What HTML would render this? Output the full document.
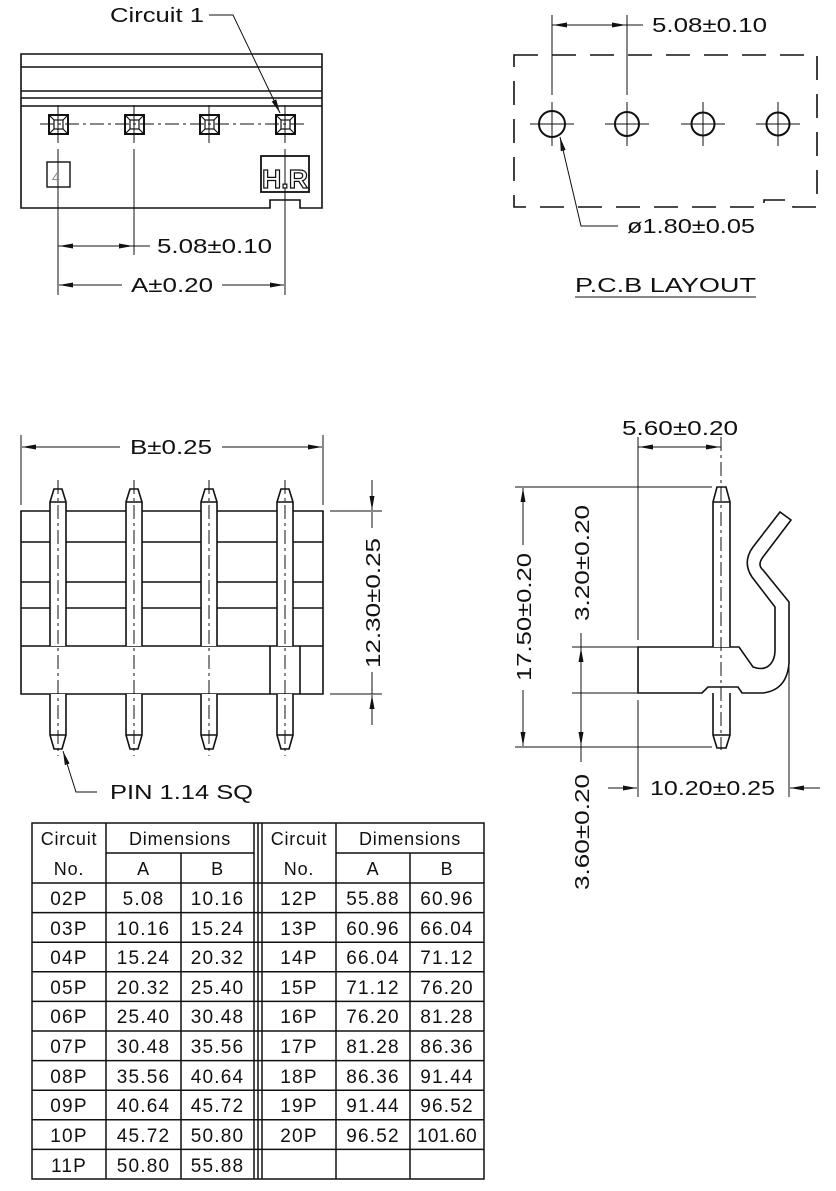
<!DOCTYPE html>
<html><head><meta charset="utf-8"><style>
html,body{margin:0;padding:0;background:#fff}
svg{display:block}
text{font-family:"Liberation Sans",sans-serif;fill:#111}
</style></head><body>
<svg width="836" height="1191" viewBox="0 0 836 1191" xmlns="http://www.w3.org/2000/svg">
<defs>
<marker id="a" viewBox="0 0 14 6" refX="14" refY="3" markerWidth="14" markerHeight="6" markerUnits="userSpaceOnUse" orient="auto"><path d="M0,0.5 L14,3 L0,5.5 z" fill="#111"/></marker>
</defs>
<g stroke="#111" stroke-width="1.6" fill="none">
<path d="M21,54 H322 V208 H300 V200 H270 V208 H21 Z"/>
<path d="M21,67 H322 M21,91 H322 M21,98 H322 M21,106 H322"/>
<path d="M40,124 H305" stroke-width="1" stroke-dasharray="14,4,3,4"/>
<g id="sq">
<rect x="49" y="115" width="19" height="19" stroke-width="2"/>
<rect x="54" y="120" width="9" height="9" stroke-width="1.2"/>
<path d="M49,115 L54,120 M68,115 L63,120 M49,134 L54,129 M68,134 L63,129" stroke-width="1.2"/>
</g>
<use href="#sq" x="76"/><use href="#sq" x="151"/><use href="#sq" x="227"/>
<g stroke-width="1">
<path d="M58,105 V143 M134,105 V143 M209,105 V143 M285,105 V143"/>
<path d="M58,149 V295 M134,149 V255 M285,149 V295"/>
</g>
<rect x="47" y="162" width="23" height="25" stroke-width="1.4"/>
<rect x="261" y="156" width="48" height="36" stroke-width="1.8"/>
<path d="M58,246 H133" stroke-width="1" marker-end="url(#a)"/>
<path d="M134,246 H59" stroke-width="1" marker-end="url(#a)"/>
<path d="M134,246 H150" stroke-width="1"/>
<path d="M122,285 H59" stroke-width="1" marker-end="url(#a)"/>
<path d="M222,285 H284" stroke-width="1" marker-end="url(#a)"/>
<path d="M209,15 H233 L280,113" stroke-width="1" marker-end="url(#a)"/>

<path d="M514,55 H817 V207 H793 V200 H764 V207 H514 Z" stroke-dasharray="24,14"/>
<g stroke-width="2">
<circle cx="552" cy="124" r="13"/><circle cx="627" cy="124" r="12"/><circle cx="703" cy="124" r="11.5"/><circle cx="778" cy="124" r="11.5"/>
</g>
<g stroke-width="1">
<path d="M530,124 H574 M552,102 V146 M605,124 H649 M627,102 V146 M681,124 H725 M703,102 V146 M756,124 H800 M778,102 V146"/>
<path d="M552,15 V95 M627,15 V95"/>
<path d="M552,25 H626" marker-end="url(#a)"/>
<path d="M627,25 H553" marker-end="url(#a)"/>
<path d="M627,25 H643"/>
<path d="M618,226 H581 L560,137" marker-end="url(#a)"/>
<path d="M575,297 H756"/>
</g>

<path d="M21,511 H323 V694 H21 Z"/>
<path d="M21,542 H323 M21,582 H323 M21,608 H323 M21,646 H323"/>
<path d="M270,646 V694 M300,646 V694"/>
<g id="pin">
<path d="M50,646 V502 L54,489 H62 L66,502 V646 M50,502 H66" fill="#fff"/>
<path d="M50,694 V735 L54,749 H62 L66,735 V694 M50,735 H66" fill="#fff"/>
<path d="M58,480 V756" stroke-width="1" stroke-dasharray="14,4,3,4"/>
</g>
<use href="#pin" x="76"/><use href="#pin" x="151"/><use href="#pin" x="227"/>
<g stroke-width="1">
<path d="M21,435 V505 M323,435 V505"/>
<path d="M120,447 H22" marker-end="url(#a)"/>
<path d="M222,447 H322" marker-end="url(#a)"/>
<path d="M330,511 H382 M330,694 H382"/>
<path d="M372,480 V510" marker-end="url(#a)"/>
<path d="M372,725 V695" marker-end="url(#a)"/>
<path d="M372,512 V528 M372,672 V694"/>
<path d="M97,792 H76 L63,751" marker-end="url(#a)"/>
</g>

<path d="M638,693 V647 H739 L753,667 Q761,670 767,667 Q775,662 775,650 V607 L752,577 Q742,562 753,547 L780,512 L791,520 L763,557 Q757,565 763,570 L789,602 V663 Q787,690 763,693 H742 L738,687 H708 L702,693 Z" fill="#fff"/>
<path d="M713,693 V735 L717,748 H726 L730,735 V693 M713,735 H730 M713,647 V502 L717,487 H726 L730,502 V647 M713,502 H730" fill="#fff"/>
<g stroke-width="1">
<path d="M721,437 V750" stroke-dasharray="14,4,3,4"/>
<path d="M638,437 V640 M638,700 V797 M789,665 V797"/>
<path d="M638,447 H720" marker-end="url(#a)"/>
<path d="M721,447 H639" marker-end="url(#a)"/>
<path d="M515,487 H712 M515,747 H712 M572,647 H638 M572,693 H638"/>
<path d="M523,545 V488" marker-end="url(#a)"/>
<path d="M523,690 V746" marker-end="url(#a)"/>
<path d="M581,633 V762"/>
<path d="M581,700 V648" marker-end="url(#a)"/>
<path d="M581,700 V746" marker-end="url(#a)"/>
<path d="M608,788 H637" marker-end="url(#a)"/>
<path d="M820,788 H790" marker-end="url(#a)"/>
</g>

<g stroke-width="1.5">
<rect x="32" y="823" width="452" height="356"/>
<path d="M254,823 V1179 M258,823 V1179 M106,823 V1179 M262,823 V1179 M336,823 V1179"/>
<path d="M181,853 V1179 M410,853 V1179 M106,853 H254 M336,853 H484"/>
<path d="M32,883 H484 M32,912.6 H484 M32,942.2 H484 M32,971.8 H484 M32,1001.4 H484 M32,1031 H484 M32,1060.6 H484 M32,1090.2 H484 M32,1119.8 H484 M32,1149.4 H484"/>
</g>
</g>

<g font-size="20">
<text x="110" y="22" textLength="94" lengthAdjust="spacingAndGlyphs">Circuit 1</text>
<text x="157" y="253" textLength="115" lengthAdjust="spacingAndGlyphs">5.08±0.10</text>
<text x="131" y="292" textLength="82" lengthAdjust="spacingAndGlyphs">A±0.20</text>
<text x="52" y="182" font-size="14" style="fill:#888">4</text>
<text x="262" y="188" font-size="26" font-weight="bold" textLength="46" lengthAdjust="spacingAndGlyphs" style="fill:#fff;stroke:#111;stroke-width:1.2">H.R</text>
<text x="652" y="32" textLength="115" lengthAdjust="spacingAndGlyphs">5.08±0.10</text>
<text x="627" y="233" textLength="128" lengthAdjust="spacingAndGlyphs">ø1.80±0.05</text>
<text x="575" y="292" textLength="181" lengthAdjust="spacingAndGlyphs">P.C.B  LAYOUT</text>
<text x="130" y="454" textLength="82" lengthAdjust="spacingAndGlyphs">B±0.25</text>
<text transform="translate(380,668) rotate(-90)" textLength="130" lengthAdjust="spacingAndGlyphs">12.30±0.25</text>
<text x="110" y="799" textLength="143" lengthAdjust="spacingAndGlyphs">PIN  1.14  SQ</text>
<text x="622" y="435" textLength="116" lengthAdjust="spacingAndGlyphs">5.60±0.20</text>
<text transform="translate(531,681) rotate(-90)" textLength="128" lengthAdjust="spacingAndGlyphs">17.50±0.20</text>
<text transform="translate(589,621) rotate(-90)" textLength="116" lengthAdjust="spacingAndGlyphs">3.20±0.20</text>
<text transform="translate(589,890) rotate(-90)" textLength="116" lengthAdjust="spacingAndGlyphs">3.60±0.20</text>
<text x="650" y="795" textLength="125" lengthAdjust="spacingAndGlyphs">10.20±0.25</text>
</g>
<g font-size="18" text-anchor="middle" letter-spacing="0.8">
<text x="69" y="845">Circuit</text><text x="69" y="875">No.</text>
<text x="180" y="845">Dimensions</text><text x="143.5" y="875">A</text><text x="217.5" y="875">B</text>
<text x="299" y="845">Circuit</text><text x="299" y="875">No.</text>
<text x="410" y="845">Dimensions</text><text x="373" y="875">A</text><text x="447" y="875">B</text>
</g>
<g font-size="19" text-anchor="middle" letter-spacing="1.2">
<text x="69" y="905">02P</text><text x="143.5" y="905">5.08</text><text x="217.5" y="905">10.16</text>
<text x="69" y="935">03P</text><text x="143.5" y="935">10.16</text><text x="217.5" y="935">15.24</text>
<text x="69" y="964">04P</text><text x="143.5" y="964">15.24</text><text x="217.5" y="964">20.32</text>
<text x="69" y="994">05P</text><text x="143.5" y="994">20.32</text><text x="217.5" y="994">25.40</text>
<text x="69" y="1023">06P</text><text x="143.5" y="1023">25.40</text><text x="217.5" y="1023">30.48</text>
<text x="69" y="1053">07P</text><text x="143.5" y="1053">30.48</text><text x="217.5" y="1053">35.56</text>
<text x="69" y="1083">08P</text><text x="143.5" y="1083">35.56</text><text x="217.5" y="1083">40.64</text>
<text x="69" y="1112">09P</text><text x="143.5" y="1112">40.64</text><text x="217.5" y="1112">45.72</text>
<text x="69" y="1142">10P</text><text x="143.5" y="1142">45.72</text><text x="217.5" y="1142">50.80</text>
<text x="69" y="1172">11P</text><text x="143.5" y="1172">50.80</text><text x="217.5" y="1172">55.88</text>
<text x="299" y="905">12P</text><text x="373" y="905">55.88</text><text x="447" y="905">60.96</text>
<text x="299" y="935">13P</text><text x="373" y="935">60.96</text><text x="447" y="935">66.04</text>
<text x="299" y="964">14P</text><text x="373" y="964">66.04</text><text x="447" y="964">71.12</text>
<text x="299" y="994">15P</text><text x="373" y="994">71.12</text><text x="447" y="994">76.20</text>
<text x="299" y="1023">16P</text><text x="373" y="1023">76.20</text><text x="447" y="1023">81.28</text>
<text x="299" y="1053">17P</text><text x="373" y="1053">81.28</text><text x="447" y="1053">86.36</text>
<text x="299" y="1083">18P</text><text x="373" y="1083">86.36</text><text x="447" y="1083">91.44</text>
<text x="299" y="1112">19P</text><text x="373" y="1112">91.44</text><text x="447" y="1112">96.52</text>
<text x="299" y="1142">20P</text><text x="373" y="1142">96.52</text><text x="447" y="1142" letter-spacing="0.3">101.60</text>
</g>
</svg>
</body></html>
